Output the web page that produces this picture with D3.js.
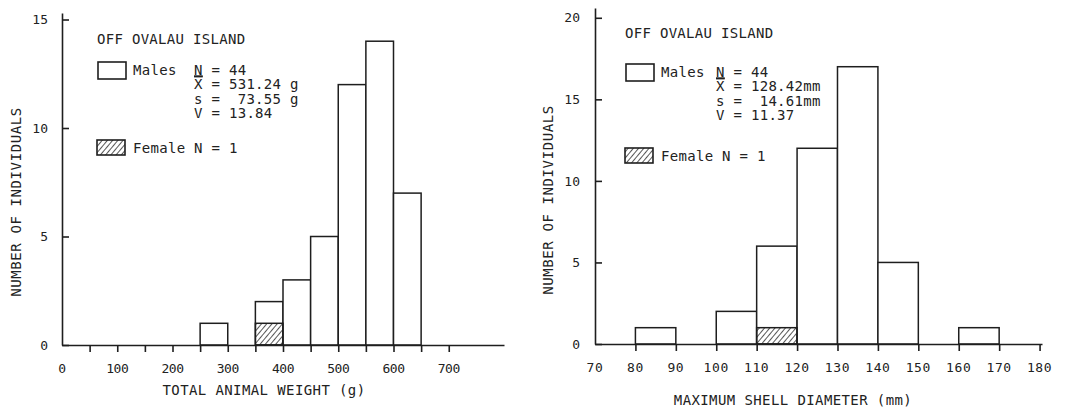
<!DOCTYPE html>
<html>
<head>
<meta charset="utf-8">
<script src="https://cdn.jsdelivr.net/npm/d3@7"></script>
<style>
  body { margin: 0; background: #fff; }
  svg text { font-family: "DejaVu Sans Mono", monospace; fill: #222; white-space: pre; }
</style>
</head>
<body>
<svg width="1082" height="412"></svg>
<script>
// left panel: total animal weight (g)
let weightBinStart = [250, 350, 400, 450, 500, 550, 600],
	weightBinWidth = 50,
	weightMales = [1, 1, 3, 5, 12, 14, 7],
	weightFemales = [0, 1, 0, 0, 0, 0, 0],
	weightTicks = [50, 100, 150, 200, 250, 300, 350, 400, 450, 500, 550, 600, 650, 700],
	weightLabels = [0, 100, 200, 300, 400, 500, 600, 700],
	weightYTicks = [0, 5, 10, 15],
	weightStats = ["N = 44", "X = 531.24 g", "s =  73.55 g", "V = 13.84"];

// right panel: maximum shell diameter (mm)
let diamBinStart = [80, 100, 110, 120, 130, 140, 160],
	diamBinWidth = 10,
	diamMales = [1, 2, 5, 12, 17, 5, 1],
	diamFemales = [0, 0, 1, 0, 0, 0, 0],
	diamTicks = [80, 90, 100, 110, 120, 130, 140, 150, 160, 170, 180],
	diamLabels = [70, 80, 90, 100, 110, 120, 130, 140, 150, 160, 170, 180],
	diamYTicks = [0, 5, 10, 15, 20],
	diamStats = ["N = 44", "X = 128.42mm", "s =  14.61mm", "V = 11.37"];

let svg = d3.select("svg");
let ink = "#1e1e1e";

let defs = svg.append("defs");
defs.append("pattern")
	.attr("id", "hatch")
	.attr("patternUnits", "userSpaceOnUse")
	.attr("width", 4).attr("height", 4)
	.attr("patternTransform", "rotate(40)")
  .append("line")
	.attr("x1", 0).attr("y1", 0).attr("x2", 0).attr("y2", 4)
	.attr("stroke", ink).attr("stroke-width", 1.5);

let drawPanel = (p)=>{
	let x = d3.scaleLinear().domain(p.xDomain).range([p.left, p.right]);
	let y = d3.scaleLinear().domain(p.yDomain).range([p.base, p.top]);
	let g = svg.append("g");

	// bars: females at the bottom, males stacked above
	let bins = p.starts.map((s, i)=>({ s: s, m: p.males[i], f: p.females[i] }));
	g.append("g").selectAll("rect.m")
		.data(bins)
	  .enter().append("rect")
		.attr("x", d=> x(d.s))
		.attr("width", d=> x(d.s + p.binWidth) - x(d.s))
		.attr("y", d=> y(d.m + d.f))
		.attr("height", d=> y(0) - y(d.m + d.f))
		.attr("fill", "#fff").attr("stroke", ink).attr("stroke-width", 1.5);
	g.append("g").selectAll("rect.f")
		.data(bins.filter(d=> d.f > 0))
	  .enter().append("rect")
		.attr("x", d=> x(d.s))
		.attr("width", d=> x(d.s + p.binWidth) - x(d.s))
		.attr("y", d=> y(d.f))
		.attr("height", d=> y(0) - y(d.f))
		.attr("fill", "url(#hatch)").attr("stroke", ink).attr("stroke-width", 1.5);

	// x axis, ticks pointing down
	let xa = g.append("g").attr("transform", "translate(0," + p.base + ")")
		.call(d3.axisBottom(x).tickValues(p.xTicks).tickSize(7).tickSizeOuter(0).tickFormat(""));
	xa.selectAll("path,line").attr("stroke", ink).attr("stroke-width", 1.6);
	g.append("g").selectAll("text")
		.data(p.xLabels)
	  .enter().append("text")
		.attr("x", d=> x(d))
		.attr("y", p.base + 28)
		.attr("text-anchor", "middle")
		.style("font-size", p.tickFont + "px")
		.style("letter-spacing", p.tickSpacing + "px")
		.text(d=> d);

	// y axis, ticks pointing inward
	let ya = g.append("g").attr("transform", "translate(" + p.left + ",0)")
		.call(d3.axisLeft(y).tickValues(p.yTicks).tickSize(-7).tickSizeOuter(0).tickPadding(p.yPad));
	ya.selectAll("path,line").attr("stroke", ink).attr("stroke-width", 1.6);
	ya.selectAll("text")
		.style("font-family", '"DejaVu Sans Mono", monospace')
		.style("font-size", p.tickFont + "px").attr("fill", ink);

	g.append("text")
		.attr("transform", "translate(" + p.yLabelX + "," + p.yLabelY + ") rotate(-90)")
		.attr("text-anchor", "middle")
		.style("font-size", "14px").style("letter-spacing", "0.6px")
		.text("NUMBER OF INDIVIDUALS");
	g.append("text")
		.attr("x", p.xLabelX).attr("y", p.xLabelY)
		.attr("text-anchor", "middle")
		.style("font-size", "14px").style("letter-spacing", "0.4px")
		.text(p.xLabel);

	// legend
	let lg = g.append("g").style("font-size", "14px").style("letter-spacing", "0.3px");
	lg.append("text").attr("x", p.lx).attr("y", p.titleY).text("OFF OVALAU ISLAND");
	lg.append("rect").attr("x", p.lx + 1).attr("y", p.maleY).attr("width", 28).attr("height", 17)
		.attr("fill", "#fff").attr("stroke", ink).attr("stroke-width", 1.6);
	lg.append("text").attr("x", p.lx + 36).attr("y", p.maleY + 13).text("Males");
	p.stats.forEach((s, i)=>{
		let t = lg.append("text").attr("x", p.statX).attr("y", p.maleY + 13 + i * 14.3);
		let first = t.append("tspan").text(s[0]);
		if(i == 0) first.style("text-decoration", "underline");
		if(i == 1) first.style("text-decoration", "overline");
		t.append("tspan").text(s.slice(1));
	});
	lg.append("rect").attr("x", p.lx).attr("y", p.femY).attr("width", 28).attr("height", 15)
		.attr("fill", "url(#hatch)").attr("stroke", ink).attr("stroke-width", 1.6);
	lg.append("text").attr("x", p.lx + 36).attr("y", p.femY + 13).text("Female N = 1");
};

drawPanel({
	xDomain: [0, 800], yDomain: [0, 15.3],
	left: 62, right: 504, base: 345, top: 13,
	starts: weightBinStart, binWidth: weightBinWidth,
	males: weightMales, females: weightFemales,
	xTicks: weightTicks, xLabels: weightLabels, yTicks: weightYTicks,
	tickFont: 13, tickSpacing: -0.5, yPad: 14,
	yLabelX: 21, yLabelY: 202,
	xLabel: "TOTAL ANIMAL WEIGHT (g)", xLabelX: 264, xLabelY: 395,
	lx: 97, titleY: 44, maleY: 62, statX: 194, femY: 140,
	stats: weightStats
});

drawPanel({
	xDomain: [70, 180.6], yDomain: [0, 20.6],
	left: 595, right: 1042, base: 344, top: 8,
	starts: diamBinStart, binWidth: diamBinWidth,
	males: diamMales, females: diamFemales,
	xTicks: diamTicks, xLabels: diamLabels, yTicks: diamYTicks,
	tickFont: 13, tickSpacing: 0.6, yPad: 15,
	yLabelX: 553, yLabelY: 200,
	xLabel: "MAXIMUM SHELL DIAMETER (mm)", xLabelX: 793, xLabelY: 405,
	lx: 625, titleY: 38, maleY: 64, statX: 716, femY: 148,
	stats: diamStats
});
</script>
</body>
</html>
